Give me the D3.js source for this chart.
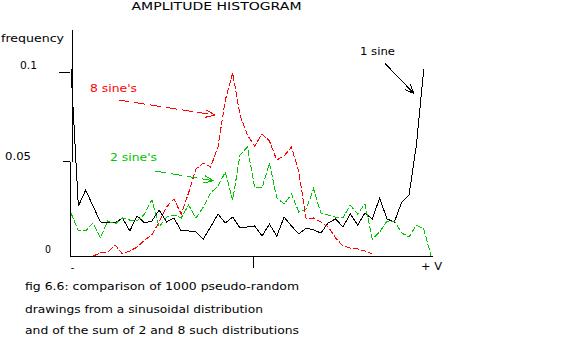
<!DOCTYPE html>
<html>
<head>
<meta charset="utf-8">
<script src="https://cdn.jsdelivr.net/npm/d3@7"></script>
<style>
  html, body { margin: 0; padding: 0; background: #fff; }
  svg { display: block; }
  text { font-family: "DejaVu Sans", sans-serif; font-size: 10px; }
</style>
</head>
<body>
<svg id="chart" width="578" height="339"></svg>
<script>
// Amplitude histogram: relative frequency per amplitude bin, 50 bins from -V to +V
const binCount = 50;

// one sinusoid
const oneSine = [0.1017, 0.0263, 0.0347, 0.0263, 0.0179, 0.0174, 0.0174, 0.0200, 0.0132, 0.0211,
  0.0174, 0.0184, 0.0242, 0.0179, 0.0200, 0.0132, 0.0132, 0.0126, 0.0089, 0.0153,
  0.0221, 0.0174, 0.0205, 0.0147, 0.0153, 0.0158, 0.0105, 0.0168, 0.0105, 0.0205,
  0.0158, 0.0116, 0.0147, 0.0137, 0.0121, 0.0174, 0.0195, 0.0153, 0.0221, 0.0163,
  0.0226, 0.0195, 0.0305, 0.0195, 0.0179, 0.0284, 0.0321, 0.0590, 0.1017, null];

// sum of 2 sinusoids
const twoSines = [0.0226, 0.0132, 0.0132, 0.0174, 0.0095, 0.0184, 0.0168, 0.0200, 0.0189, 0.0184,
  0.0221, 0.0295, 0.0153, 0.0205, 0.0216, 0.0200, 0.0268, 0.0200, 0.0258, 0.0332,
  0.0368, 0.0442, 0.0295, 0.0534, 0.0579, 0.0358, 0.0358, 0.0489, 0.0305, 0.0274,
  0.0326, 0.0232, 0.0247, 0.0353, 0.0226, 0.0216, 0.0205, 0.0200, 0.0268, 0.0221,
  0.0274, 0.0089, 0.0126, 0.0184, 0.0184, 0.0121, 0.0100, 0.0163, 0.0142, 0];

// sum of 8 sinusoids (empty bins at both ends)
const eightSines = [null, null, null, 0, 0.0016, 0.0021, 0.0058, 0.0011, 0.0026, 0.0047,
  0.0084, 0.0111, 0.0179, 0.0258, 0.0300, 0.0221, 0.0332, 0.0458, 0.0489, 0.0468,
  0.0579, 0.0843, 0.0994, 0.0758, 0.0646, 0.0584, 0.0652, 0.0612, 0.0506, 0.0528,
  0.0579, 0.0442, 0.0195, 0.0200, 0.0179, 0.0153, 0.0095, 0.0053, 0.0042, 0.0037,
  0.0026, 0.0011, null, null, null, null, null, null, null, null];

const yTickValues = [0, 0.05, 0.1];
const yTickLabels = ["0", "0.05", "0.1"];
const xTickValues = [-1, 0, 1];
const xTickLabels = ["-", "", "+ V"];

const titleText = "AMPLITUDE HISTOGRAM";
const yAxisTitle = "frequency";
const captionLines = [
  "fig 6.6: comparison of 1000 pseudo-random",
  "drawings from a sinusoidal distribution",
  "and of the sum of 2 and 8 such distributions"
];

const RED = "#ff0000", GREEN = "#00c400", BLACK = "#000000";

const series = [
  { values: oneSine, color: BLACK, dash: null },
  { values: twoSines, color: GREEN, dash: "6,2" },
  { values: eightSines, color: RED, dash: "6,2" }
];

// labelled arrows, placed in data units (bin, frequency)
const notes = [
  { label: "8 sine's", color: RED, at: [2.59, 0.0888], width: 47, from: [6.46, 0.0843], to: [19.59, 0.0758], dash: "11,5" },
  { label: "2 sine's", color: GREEN, at: [5.31, 0.0500], width: 47, from: [11.43, 0.0447], to: [19.36, 0.0396], dash: "11,5" },
  { label: "1 sine", color: BLACK, at: [39.32, 0.1096], width: 35, from: [42.72, 0.1048], to: [46.67, 0.0879], dash: null }
];

// ---- layout ----
const svg = d3.select("#chart");
svg.append("rect").attr("width", 578).attr("height", 339).attr("fill", "#fff");

const x = d3.scaleLinear().domain([0, binCount - 1]).range([71, 431.1]);
const y = d3.scaleLinear().domain([0, 0.05, 0.1]).range([256, 161, 72]);
const amp = d3.scaleLinear().domain([-1, 1]).range([72.5, 433.5]);

const crisp = "crispEdges";

// title
svg.append("text").attr("x", 131.5).attr("y", 10.3)
  .attr("textLength", 170).attr("lengthAdjust", "spacingAndGlyphs")
  .text(titleText);

// y axis (drawn in two pieces, as on the original plotter output)
svg.append("path")
  .attr("d", `M72,30V${y(0.05) + 1}M70,${y(0.05) + 1}V${y(0)}`)
  .attr("stroke", BLACK).attr("fill", "none").attr("shape-rendering", crisp);

svg.append("text").attr("x", 1).attr("y", 42)
  .attr("textLength", 63).attr("lengthAdjust", "spacingAndGlyphs")
  .text(yAxisTitle);

// y ticks and labels
const yTickStyle = [
  { lx: 45, dy: -3, len: 0, w: 6 },
  { lx: 5, dy: -1, len: 7, w: 26 },
  { lx: 20, dy: -3, len: 11, w: 17 }
];
yTickValues.forEach((v, i) => {
  const s = yTickStyle[i];
  if (s.len > 0) {
    svg.append("line").attr("x1", 70 - s.len).attr("x2", 70)
      .attr("y1", Math.round(y(v)) + 0.5).attr("y2", Math.round(y(v)) + 0.5)
      .attr("stroke", BLACK).attr("shape-rendering", crisp);
  }
  svg.append("text").attr("x", s.lx).attr("y", y(v) + s.dy)
    .attr("textLength", s.w).attr("lengthAdjust", "spacingAndGlyphs")
    .text(yTickLabels[i]);
});

// x axis
svg.append("line").attr("x1", 70).attr("x2", 432.5)
  .attr("y1", y(0) + 0.5).attr("y2", y(0) + 0.5)
  .attr("stroke", BLACK).attr("shape-rendering", crisp);
svg.append("line").attr("x1", Math.round(amp(0)) + 0.5).attr("x2", Math.round(amp(0)) + 0.5)
  .attr("y1", y(0)).attr("y2", y(0) + 12)
  .attr("stroke", BLACK).attr("shape-rendering", crisp);

svg.append("text").attr("x", amp(-1)).attr("y", 271).attr("text-anchor", "middle")
  .text(xTickLabels[0]);
svg.append("text").attr("x", amp(1) - 2).attr("y", 269.5).attr("text-anchor", "middle")
  .attr("textLength", 21).attr("lengthAdjust", "spacingAndGlyphs")
  .text(xTickLabels[2]);

// histogram polylines
const line = d3.line()
  .defined(d => d != null)
  .x((d, i) => x(i))
  .y(d => y(d));

series.forEach(s => {
  svg.append("path")
    .attr("d", line(s.values))
    .attr("fill", "none")
    .attr("stroke", s.color)
    .attr("stroke-width", 1)
    .attr("stroke-dasharray", s.dash)
    .attr("shape-rendering", crisp);
});

// annotation arrows and labels
notes.forEach(n => {
  const x0 = x(n.from[0]), y0 = y(n.from[1]);
  const x1 = x(n.to[0]), y1 = y(n.to[1]);
  svg.append("line").attr("x1", x0).attr("y1", y0).attr("x2", x1).attr("y2", y1)
    .attr("stroke", n.color).attr("stroke-dasharray", n.dash)
    .attr("shape-rendering", crisp);
  const ang = Math.atan2(y0 - y1, x0 - x1);
  const head = 10, spread = 0.38;
  const p = [ang - spread, ang + spread].map(a => [x1 + head * Math.cos(a), y1 + head * Math.sin(a)]);
  svg.append("path")
    .attr("d", `M${p[0][0]},${p[0][1]}L${x1},${y1}L${p[1][0]},${p[1][1]}`)
    .attr("fill", "none").attr("stroke", n.color).attr("shape-rendering", crisp);
  svg.append("text").attr("x", x(n.at[0])).attr("y", y(n.at[1]))
    .attr("fill", n.color)
    .attr("textLength", n.width).attr("lengthAdjust", "spacingAndGlyphs")
    .text(n.label);
});

// caption
const captionStyle = [{ y: 290, w: 274 }, { y: 313, w: 238 }, { y: 334, w: 274 }];
captionLines.forEach((t, i) => {
  svg.append("text").attr("x", 25).attr("y", captionStyle[i].y)
    .attr("textLength", captionStyle[i].w).attr("lengthAdjust", "spacingAndGlyphs")
    .text(t);
});
</script>
</body>
</html>
